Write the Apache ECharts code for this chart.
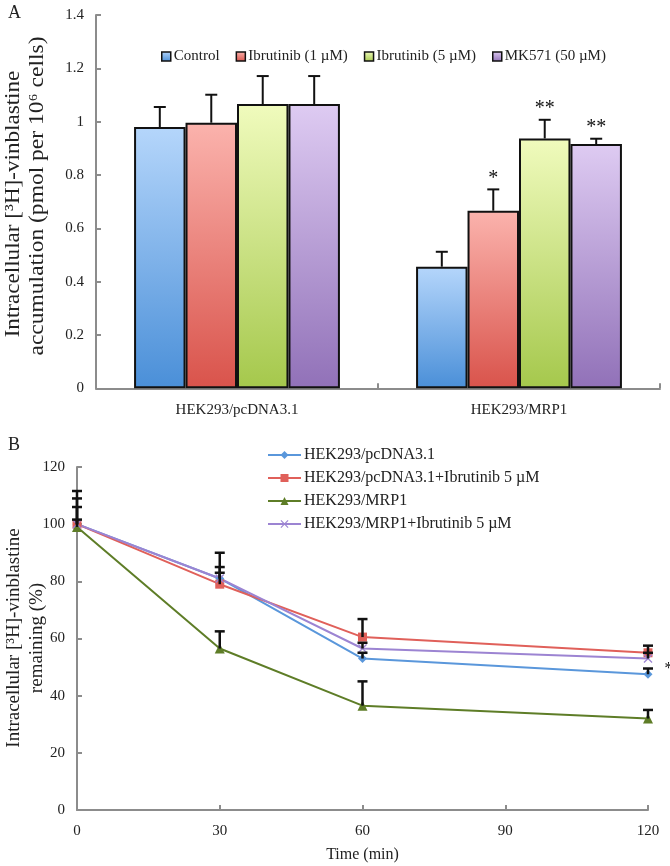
<!DOCTYPE html>
<html><head><meta charset="utf-8">
<script src="https://cdn.jsdelivr.net/npm/echarts@6/dist/echarts.min.js"></script>
<style>html,body{margin:0;padding:0;background:#fff}#c{width:670px;height:866px}</style>
</head><body><div id="c"></div>
<script>
// ---------- Panel A data ----------
const groupsA = ['HEK293/pcDNA3.1', 'HEK293/MRP1'];
const namesA = ['Control', 'Ibrutinib (1 µM)', 'Ibrutinib (5 µM)', 'MK571 (50 µM)'];
const controlA = [0.98, 0.456];
const ibr1A = [0.996, 0.666];
const ibr5A = [1.066, 0.937];
const mk571A = [1.066, 0.916];
const controlErrA = [0.075, 0.056];
const ibr1ErrA = [0.105, 0.08];
const ibr5ErrA = [0.105, 0.07];
const mk571ErrA = [0.105, 0.02];
const sigA = [['', ''], ['', '*'], ['', '**'], ['', '**']];

// ---------- Panel B data ----------
const timeB = [0, 30, 60, 120];
const namesB = ['HEK293/pcDNA3.1', 'HEK293/pcDNA3.1+Ibrutinib 5 µM', 'HEK293/MRP1', 'HEK293/MRP1+Ibrutinib 5 µM'];
const pcdnaB = [100, 81, 53, 47.5];
const pcdnaIbrB = [100, 79, 60.5, 55];
const mrp1B = [99, 56.5, 36.5, 32];
const mrp1IbrB = [100, 81, 56.5, 53];
const pcdnaErrB = [6, 4, 2, 2];
const pcdnaIbrErrB = [9, 11, 6.3, 2.5];
const mrp1ErrB = [2.6, 6, 8.5, 3];
const mrp1IbrErrB = [11.6, 2, 2, 2];
const sigB = ['', '', '', '*'];

const FONT = 'Liberation Serif';
const AXIS_COLOR = '#8c8c8c';
const CAT_GAP = 0.27;

const valsA = [controlA, ibr1A, ibr5A, mk571A];
const errsA = [controlErrA, ibr1ErrA, ibr5ErrA, mk571ErrA];
const gradsA = [
  ['#b5d6fb', '#4a8fd8'],
  ['#fbb3ad', '#d9534b'],
  ['#f0fbbd', '#a5c84c'],
  ['#decbf2', '#9171b8']
];
const valsB = [pcdnaB, pcdnaIbrB, mrp1B, mrp1IbrB];
const errsB = [pcdnaErrB, pcdnaIbrErrB, mrp1ErrB, mrp1IbrErrB];
const colorsB = ['#5a97db', '#e0605a', '#5e7d27', '#9c84d2'];
const symbolsB = ['diamond', 'rect', 'triangle',
  'path://M0,1 L1,0 L5,4 L9,0 L10,1 L6,5 L10,9 L9,10 L5,6 L1,10 L0,9 L4,5 Z'];

const chart = echarts.init(document.getElementById('c'), null, {renderer: 'canvas'});

const series = [];
namesA.forEach((n, i) => {
  series.push({
    name: n, type: 'bar', xAxisIndex: 0, yAxisIndex: 0,
    barGap: 0, barCategoryGap: (CAT_GAP * 100) + '%',
    data: valsA[i],
    itemStyle: {
      color: new echarts.graphic.LinearGradient(0, 0, 0, 1, [
        {offset: 0, color: gradsA[i][0]}, {offset: 1, color: gradsA[i][1]}]),
      borderColor: '#111', borderWidth: 2
    }
  });
});
namesA.forEach((n, si) => {
  series.push({
    type: 'custom', xAxisIndex: 0, yAxisIndex: 0, z: 4, silent: true,
    data: groupsA.map((g, i) => [i, valsA[si][i], errsA[si][i]]),
    renderItem(params, api) {
      const ci = api.value(0), v = api.value(1), e = api.value(2);
      const base = api.coord([ci, v]);
      const top = api.coord([ci, v + e]);
      const band = api.size([1, 0])[0];
      const gw = band * (1 - CAT_GAP), bw = gw / 4;
      const x = base[0] - gw / 2 + bw * (si + 0.5);
      const st = {stroke: '#111', lineWidth: 2};
      const children = [
        {type: 'line', shape: {x1: x, y1: base[1], x2: x, y2: top[1]}, style: st},
        {type: 'line', shape: {x1: x - 6, y1: top[1], x2: x + 6, y2: top[1]}, style: st}
      ];
      const s = sigA[si][params.dataIndex];
      if (s) children.push({type: 'text', x: x, y: top[1] - 1,
        style: {text: s, font: '20px "' + FONT + '"', fill: '#111', textAlign: 'center', textVerticalAlign: 'bottom'}});
      return {type: 'group', children};
    }
  });
});
namesB.forEach((n, i) => {
  series.push({
    name: n, type: 'line', xAxisIndex: 1, yAxisIndex: 1,
    data: timeB.map((t, k) => [t, valsB[i][k]]),
    symbol: symbolsB[i], symbolSize: i === 2 ? 10 : 9,
    lineStyle: {color: colorsB[i], width: 2},
    itemStyle: {color: colorsB[i]},
    z: 2,
    label: i === 0 ? {
      show: true, position: 'right', distance: 12, offset: [0, -5],
      formatter: p => sigB[p.dataIndex], fontFamily: FONT, fontSize: 16, color: '#111'
    } : {show: false}
  });
});
namesB.forEach((n, si) => {
  series.push({
    type: 'custom', xAxisIndex: 1, yAxisIndex: 1, z: 4, silent: true,
    data: timeB.map((t, k) => [t, valsB[si][k], errsB[si][k]]),
    renderItem(params, api) {
      const t = api.value(0), v = api.value(1), e = api.value(2);
      const a = api.coord([t, v]), b = api.coord([t, v + e]);
      const st = {stroke: '#111', lineWidth: 2.5};
      return {type: 'group', children: [
        {type: 'line', shape: {x1: a[0], y1: a[1], x2: b[0], y2: b[1]}, style: st},
        {type: 'line', shape: {x1: b[0] - 5, y1: b[1], x2: b[0] + 5, y2: b[1]}, style: st}
      ]};
    }
  });
});

const axisLine = {show: true, lineStyle: {color: AXIS_COLOR, width: 2}};
const axisTick = {show: true, inside: true, length: 5, lineStyle: {color: AXIS_COLOR, width: 2}};
const labelStyle = {fontFamily: FONT, fontSize: 15, color: '#222'};

chart.setOption({
  animation: false,
  backgroundColor: '#fff',
  textStyle: {fontFamily: FONT},
  grid: [
    {left: 96, top: 15, width: 564, height: 373.3},
    {left: 77, top: 467, width: 571, height: 343}
  ],
  xAxis: [
    {type: 'category', gridIndex: 0, data: groupsA, axisLine, axisTick,
     axisLabel: Object.assign({margin: 14}, labelStyle), splitLine: {show: false}},
    {type: 'value', gridIndex: 1, min: 0, max: 120, interval: 30, axisLine, axisTick,
     axisLabel: Object.assign({margin: 14}, labelStyle), splitLine: {show: false},
     name: 'Time (min)', nameLocation: 'middle', nameGap: 37,
     nameTextStyle: {fontFamily: FONT, fontSize: 16, color: '#222'}}
  ],
  yAxis: [
    {type: 'value', gridIndex: 0, min: 0, max: 1.4, interval: 0.2, axisLine, axisTick,
     axisLabel: Object.assign({margin: 12, formatter: v => String(+v.toFixed(1))}, labelStyle),
     splitLine: {show: false}},
    {type: 'value', gridIndex: 1, min: 0, max: 120, interval: 20, axisLine, axisTick,
     axisLabel: Object.assign({margin: 12}, labelStyle), splitLine: {show: false}}
  ],
  legend: [
    {data: namesA, left: 156, top: 44, orient: 'horizontal', icon: 'rect',
     itemWidth: 9, itemHeight: 9, itemGap: 16,
     itemStyle: {borderColor: '#111', borderWidth: 1.5},
     textStyle: {fontFamily: FONT, fontSize: 15, color: '#222', padding: [0, 0, 0, -2]}},
    {data: namesB, left: 262, top: 442, orient: 'vertical',
     itemWidth: 33, itemHeight: 10, itemGap: 7,
     textStyle: {fontFamily: FONT, fontSize: 16, color: '#222', padding: [0, 0, 0, -2]}}
  ],
  graphic: [
    {type: 'text', x: 8, y: 4, style: {text: 'A', font: '18px "' + FONT + '"', fill: '#222'}},
    {type: 'text', x: 8, y: 436, style: {text: 'B', font: '18px "' + FONT + '"', fill: '#222'}},
    {type: 'text', x: 13, y: 204, rotation: Math.PI / 2, scaleX: 1.1,
     style: {text: 'Intracellular [³H]-vinblastine', font: '21px "' + FONT + '"', fill: '#222',
             textAlign: 'center', textVerticalAlign: 'middle'}},
    {type: 'text', x: 37, y: 196, rotation: Math.PI / 2, scaleX: 1.12,
     style: {text: 'accumulation (pmol per 10⁶ cells)', font: '21px "' + FONT + '"', fill: '#222',
             textAlign: 'center', textVerticalAlign: 'middle'}},
    {type: 'text', x: 14, y: 638, rotation: Math.PI / 2,
     style: {text: 'Intracellular [³H]-vinblastine', font: '19px "' + FONT + '"', fill: '#222',
             textAlign: 'center', textVerticalAlign: 'middle'}},
    {type: 'text', x: 37, y: 638, rotation: Math.PI / 2,
     style: {text: 'remaining (%)', font: '19px "' + FONT + '"', fill: '#222',
             textAlign: 'center', textVerticalAlign: 'middle'}}
  ],
  series
});
</script>
</body></html>
